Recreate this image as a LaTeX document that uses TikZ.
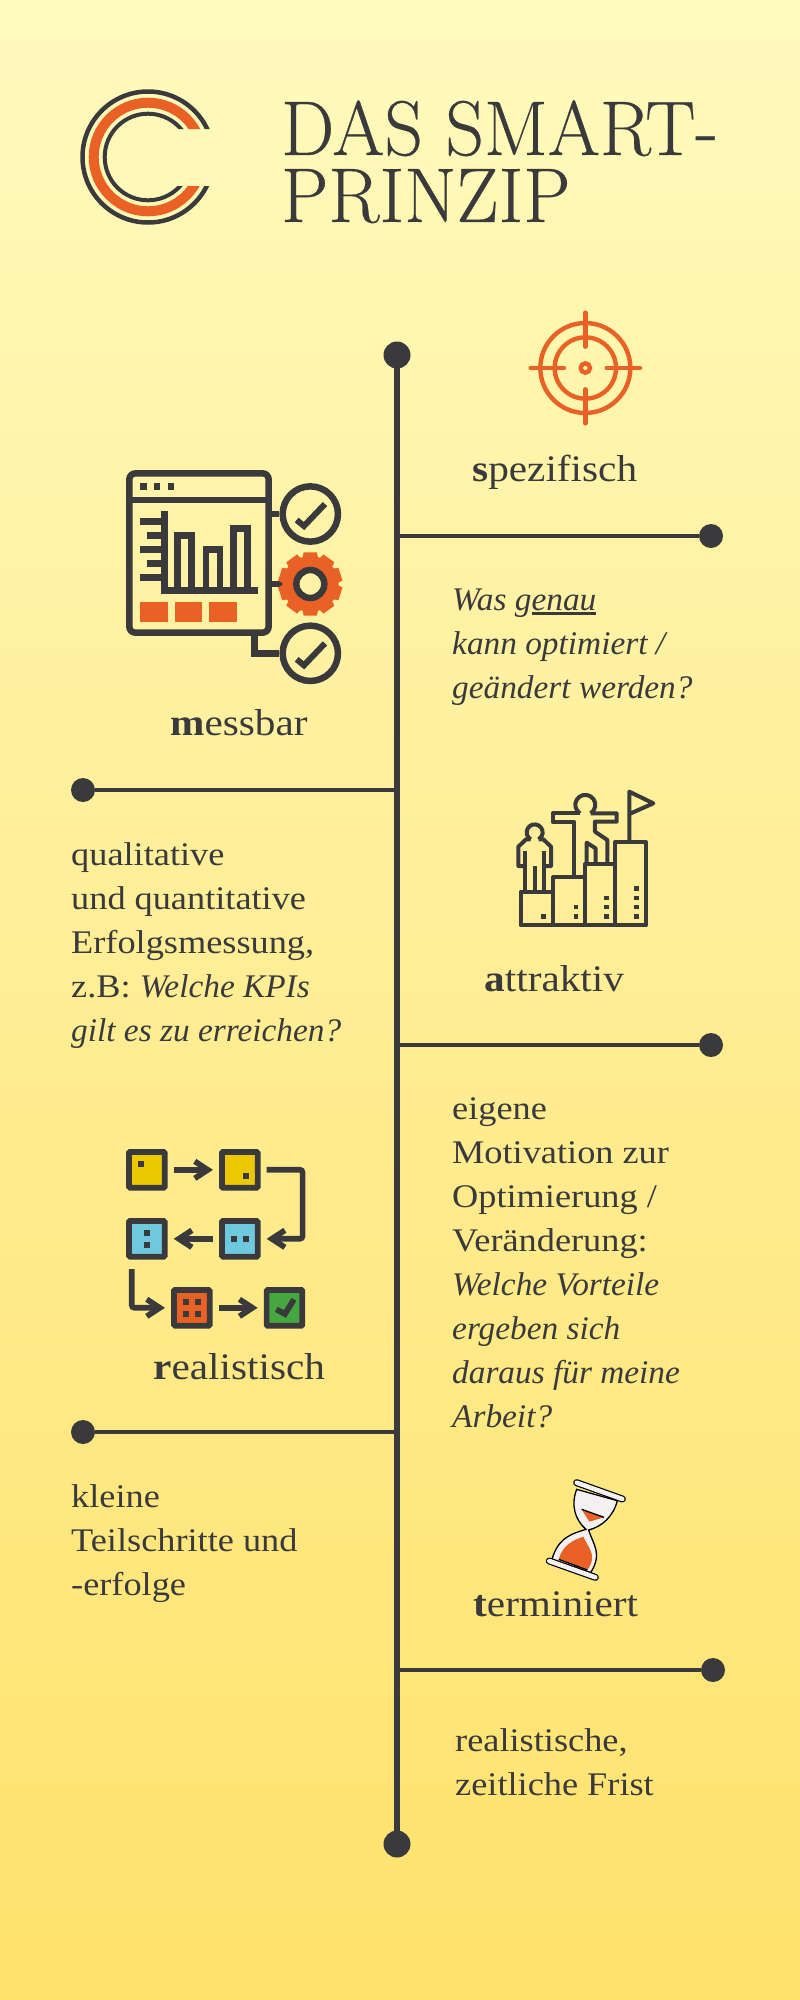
\documentclass[tikz,border=0pt]{standalone}
\usepackage{fontspec}
\setmainfont{Liberation Serif}[FakeStretch=1.1,ItalicFeatures={FakeStretch=1.01},BoldFeatures={FakeStretch=1.1}]
\newfontfamily\titlefont[FakeStretch=0.97,FakeBold=0.35]{Latin Modern Roman}
\usetikzlibrary{arrows.meta}
\definecolor{dark}{HTML}{3A3A3C}
\definecolor{bgtop}{HTML}{FFFBBE}
\definecolor{bgbot}{HTML}{FFE26C}
\definecolor{bgmid}{HTML}{FFF2A4}
\definecolor{rust}{HTML}{E96124}
\definecolor{gelb}{HTML}{ECC800}
\definecolor{blau}{HTML}{6EC8DE}
\definecolor{gruen}{HTML}{46A640}
\newcommand{\strich}[1]{\setbox0\hbox{#1}\rlap{\rule[-3.8pt]{\wd0}{2.8pt}}\box0}

\begin{document}
\begin{tikzpicture}[x=1pt,y=-1pt]
\tikzstyle{dot}=[circle, fill=dark, inner sep=0, minimum size=24pt]
\tikzstyle{bigdot}=[circle, fill=dark, inner sep=0, minimum size=27pt]
\tikzstyle{linie}=[dark, line width=4.5pt]
\tikzstyle{head}=[anchor=base west, inner sep=0, text=dark, font=\fontsize{37.5}{44}\selectfont]
\tikzstyle{body}=[anchor=north west, inner sep=0, text=dark, align=left, font=\fontsize{33}{44}\selectfont]
\tikzstyle{titel}=[anchor=north west, inner sep=0, text=dark, align=left, font=\titlefont\fontsize{77.5}{67}\selectfont]
\tikzstyle{icon}=[dark, line width=6.5pt]
\tikzstyle{box}=[draw=dark, line width=5.7pt, inner sep=0, minimum size=35.7pt, rounded corners=1pt, outer sep=9pt]
\tikzstyle{pfeil}=[dark, line width=5.7pt, -{Straight Barb[length=13pt, width=17pt]}]

\useasboundingbox (0,0) rectangle (800,2000);
\shade[top color=bgtop, bottom color=bgmid] (0,0) rectangle (800,600);
\shade[top color=bgmid, bottom color=bgbot] (0,600) rectangle (800,2000);

%%%%%%%%%%%%%%%%%%%%%%%%%%%%%%
%%%%% LOGO
\begin{scope}
\clip (70,80) rectangle (220,129) (70,129) rectangle (148,186) (70,186) rectangle (220,235);
\draw[dark, line width=4.5pt] (148,157) circle (65.5);
\draw[rust, line width=10pt] (148,157) circle (54.3);
\draw[dark, line width=4pt] (148,157) circle (43.3);
\end{scope}

%%%%% TITEL
\node[titel] (titel) at (281,100) {DAS SMART-\\PRINZIP};

%%%%%%%%%%%%%%%%%%%%%%%%%%%%%%
%%%%% ACHSE
\coordinate (top) at (397,355);
\coordinate (bottom) at (397,1844);

%%%%% ABZWEIGE
\coordinate (a_1) at (397,536);
\coordinate (a_2) at (397,790);
\coordinate (a_3) at (397,1045);
\coordinate (a_4) at (397,1432);
\coordinate (a_5) at (400,1670);

\draw[linie, line width=5.3pt] (top) -- (bottom);
\node[bigdot] (top) at (top) {};
\node[bigdot] (bottom) at (bottom) {};

\node[dot] (d_1) at (711,536) {};
\node[dot] (d_2) at (83,790) {};
\node[dot] (d_3) at (711,1045) {};
\node[dot] (d_4) at (83,1432) {};
\node[dot] (d_5) at (713,1670) {};

\draw[linie] (a_1) -- (d_1);
\draw[linie] (a_2) -- (d_2);
\draw[linie] (a_3) -- (d_3);
\draw[linie] (a_4) -- (d_4);
\draw[linie] (a_5) -- (d_5);

%%%%%%%%%%%%%%%%%%%%%%%%%%%%%%
%%%%% TEXTE
\node[head] (h_1) at (472,481) {\textbf{s}pezifisch};
\node[head] (h_2) at (170,735) {\textbf{m}essbar};
\node[head] (h_3) at (484,991) {\textbf{a}ttraktiv};
\node[head] (h_4) at (153,1379) {\textbf{r}ealistisch};
\node[head] (h_5) at (473,1616) {\textbf{t}erminiert};

\node[body] (b_1) at (452,589) {\textit{Was g\strich{enau}}\\\textit{kann optimiert /}\\\textit{geändert werden?}};
\node[body] (b_2) at (71,842) {qualitative\\und quantitative\\Erfolgsmessung,\\z.B: \textit{Welche KPIs}\\\textit{gilt es zu erreichen?}};
\node[body] (b_3) at (452,1097) {eigene\\Motivation zur\\Optimierung /\\Veränderung:\\\textit{Welche Vorteile}\\\textit{ergeben sich}\\\textit{daraus für meine}\\\textit{Arbeit?}};
\node[body] (b_4) at (71,1484) {kleine\\Teilschritte und\\-erfolge};
\node[body] (b_5) at (455,1728) {realistische,\\zeitliche Frist};

%%%%%%%%%%%%%%%%%%%%%%%%%%%%%%
%%%%% ZIEL
\begin{scope}[shift={(500,300)}, x=0.3333pt, y=-0.3333pt, rust, line width=4.4pt, line cap=round]
\draw (256,204) circle (135);
\draw (256,204) circle (92);
\draw (256,204) circle (14);
\draw (256,38) -- (256,140);
\draw (256,268) -- (256,370);
\draw (92,204) -- (192,204);
\draw (320,204) -- (420,204);
\end{scope}

%%%%%%%%%%%%%%%%%%%%%%%%%%%%%%
%%%%% MESSBAR
\begin{scope}[shift={(110,450)}, x=0.3333pt, y=-0.3333pt]
\node[draw=dark, line width=6.5pt, inner sep=0, minimum width=139.3pt, minimum height=159.3pt, rounded corners=6pt] (window) at (267,309) {};
\node[circle, draw=dark, line width=6.5pt, inner sep=0, minimum size=55.3pt] (c_1) at (601,192) {};
\node[circle, draw=dark, line width=6.5pt, inner sep=0, minimum size=55.3pt] (c_3) at (601,610) {};
\coordinate (c_2) at (601,402);
\coordinate (w_1) at (433,548);
\draw[icon] (window.east |- c_1) -- (c_1.west);
\draw[icon] (window.east |- c_2) -- (c_2);
\draw[icon] (w_1) |- (c_3.west);
\fill[rust] (c_2) circle (84);
\foreach \a in {0,36,...,324} \fill[rust, rotate around={\a:(c_2)}] (581,307) -- (621,307) -- (627,340) -- (575,340) -- cycle;
\node[circle, draw=dark, fill=bgmid, line width=6.5pt, inner sep=0, minimum size=28pt] (gear) at (c_2) {};
\draw[icon] (58,150) -- (476,150);
\foreach \x in {100,141,183} \fill[dark] (\x-10,99) rectangle (\x+10,120);
\draw[icon] (163,183) -- (163,422) -- (444,422);
\foreach \y in {214,298,382} \draw[icon] (90,\y) -- (163,\y);
\foreach \y in {256,340} \draw[icon] (110,\y) -- (163,\y);
\draw[icon] (203,422) -- (203,256) -- (245,256) -- (245,422);
\draw[icon] (288,422) -- (288,298) -- (330,298) -- (330,422);
\draw[icon] (371,422) -- (371,235) -- (413,235) -- (413,422);
\foreach \x in {90,194,298} \fill[rust] (\x,455) rectangle (\x+83,517);
\draw[dark, line width=6pt] (560,210) -- (582,228) -- (645,162);
\draw[dark, line width=6pt] (560,628) -- (582,646) -- (645,580);
\end{scope}

%%%%%%%%%%%%%%%%%%%%%%%%%%%%%%
%%%%% ATTRAKTIV
\begin{scope}[shift={(500,780)}, x=0.3333pt, y=-0.3333pt, dark, line width=4pt, line join=round]
\draw (62,335) rectangle (160,436);
\draw (160,291) rectangle (255,436);
\draw (255,252) rectangle (345,436);
\draw (345,186) rectangle (438,436);
\foreach \x/\y in {131/409,228/381,228/409,319/354,319/381,319/409,409/326,409/354,409/381,409/409}
  \fill (\x-7,\y-7) rectangle (\x+7,\y+7);
\draw (388,186) -- (388,35) -- (460,70) -- (388,102);
% kleine Person
\draw (92,178) arc (120:420:24);
\draw (76,335) -- (76,212);
\draw (133,335) -- (133,212);
\draw (104,335) -- (104,258);
\draw (92,178) -- (78,178) -- (55,200) -- (55,258) -- (76,258);
\draw (116,178) -- (130,178) -- (153,200) -- (153,258) -- (133,258);
% grosse Person
\draw (240,100) arc (122:418:30);
\draw (240,100) -- (158,100) -- (158,125) -- (222,125) -- (222,291);
\draw (272,100) -- (350,100) -- (350,125) -- (285,125) -- (285,155) -- (322,180) -- (322,252);
\draw (260,252) -- (260,188) -- (287,205) -- (287,252);
\end{scope}

%%%%%%%%%%%%%%%%%%%%%%%%%%%%%%
%%%%% REALISTISCH
\begin{scope}[shift={(110,1130)}, x=0.3333pt, y=-0.3333pt]
\node[box, fill=gelb] (s_1) at (110.5,119.5) {};
\node[box, fill=gelb] (s_2) at (389.5,119.5) {};
\node[box, fill=blau] (s_3) at (110.5,326.5) {};
\node[box, fill=blau] (s_4) at (389.5,326.5) {};
\node[box, fill=rust] (s_5) at (245.5,533.5) {};
\node[box, fill=gruen] (s_6) at (523.5,533.5) {};
\coordinate (k_1) at (578,119);
\coordinate (k_2) at (65,417);
\draw[pfeil] (s_1) -- (s_2);
\draw[pfeil, rounded corners=3pt] (s_2.east) -- (k_1) -- (k_1 |- s_4) -- (s_4.east);
\draw[pfeil] (s_4) -- (s_3);
\draw[pfeil, rounded corners=3pt] (k_2) |- (s_5.west);
\draw[pfeil] (s_5) -- (s_6);
\foreach \x/\y in {92/101,407/137,110/309,110/345,371/326,407/326,228/516,264/516,228/552,264/552}
  \fill[dark] (\x-9,\y-9) rectangle (\x+9,\y+9);
\draw[dark, line width=5.7pt] (499,538) -- (525,552) -- (552,508);
\end{scope}

%%%%%%%%%%%%%%%%%%%%%%%%%%%%%%
%%%%% SANDUHR
\begin{scope}[shift={(530,1470)}, x=0.3333pt, y=-0.3333pt, line width=1.3pt, draw=black]
\definecolor{glas}{HTML}{F2F0F0}
\draw[fill=glas] (140,58) .. controls (122,105) and (135,150) .. (168,178) .. controls (130,190) and (85,200) .. (66,268) -- (182,308) .. controls (218,250) and (190,225) .. (176,180) .. controls (215,170) and (250,140) .. (262,92) -- cycle;
\fill[rust] (86,268) .. controls (98,225) and (130,210) .. (160,200) .. controls (172,230) and (205,255) .. (172,300) -- cycle;
\draw (86,268) -- (172,300);
\fill[rust] (155,118) -- (222,142) -- (178,155) -- cycle;
\draw (155,118) -- (222,142);
\draw[line width=1.2pt, double=glas, double distance=4.6pt, line cap=round] (140,38) -- (277,87);
\draw[line width=1.2pt, double=glas, double distance=4.6pt, line cap=round] (58,273) -- (196,322);
\end{scope}

\end{tikzpicture}
\end{document}
